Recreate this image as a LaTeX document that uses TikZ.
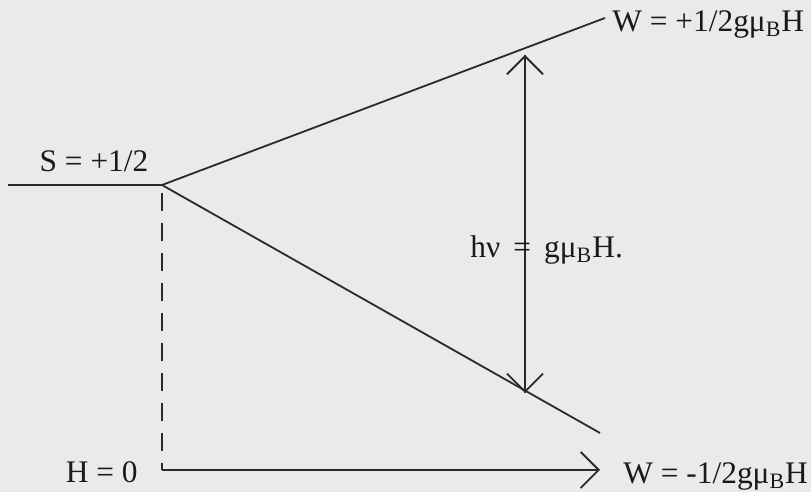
\documentclass[tikz,border=0pt]{standalone}
\usepackage{fontspec}
\setmainfont{Liberation Serif}
\usetikzlibrary{arrows.meta}
\definecolor{paper}{HTML}{EAEAEA}
\definecolor{ink}{HTML}{2A2A2A}
\newcommand{\muB}{gμ\textsubscript{B}H}

\begin{document}
\begin{tikzpicture}[x=0.5pt,y=-0.5pt,
  level/.style={draw=ink,line width=0.9pt},
  barb/.style={-{Straight Barb[length=9pt,width=18pt]}},
  lbl/.style={inner sep=0pt,text=black!90,font=\fontsize{15.7}{18}\selectfont}]

\fill[paper] (0,0) rectangle (811,492);
\useasboundingbox (0,0) rectangle (811,492);

\coordinate (l) at (8,185);
\coordinate (j) at (162,185);
\coordinate (up) at (605,18);
\coordinate (dn) at (600,433);
\coordinate (c) at (162,470);
\coordinate (h) at (600,470);
\coordinate (t) at (525,55);
\coordinate (b) at (525,393);

\draw[level] (l) -- (j);
\draw[level] (j) -- (up);
\draw[level] (j) -- (dn);
\draw[level,dash pattern=on 9pt off 6pt,dash phase=-4pt] (j) -- (c);
\draw[level,barb] (c) -- (h);
\draw[level,barb] (b) -- (t);
\draw[level,barb] (t) -- (b);

\node[lbl,anchor=base] (s) at (94,172) {S = +1/2};
\node[lbl,anchor=base west] (wp) at (612,32) {W = +1/2\muB};
\node[lbl,anchor=base west] (hv) at (470,258) {hν \,=\, \muB.};
\node[lbl,anchor=base east] (h0) at (138,483) {H = 0};
\node[lbl,anchor=base west] (wm) at (623,484) {W = -1/2\muB};

\end{tikzpicture}
\end{document}
